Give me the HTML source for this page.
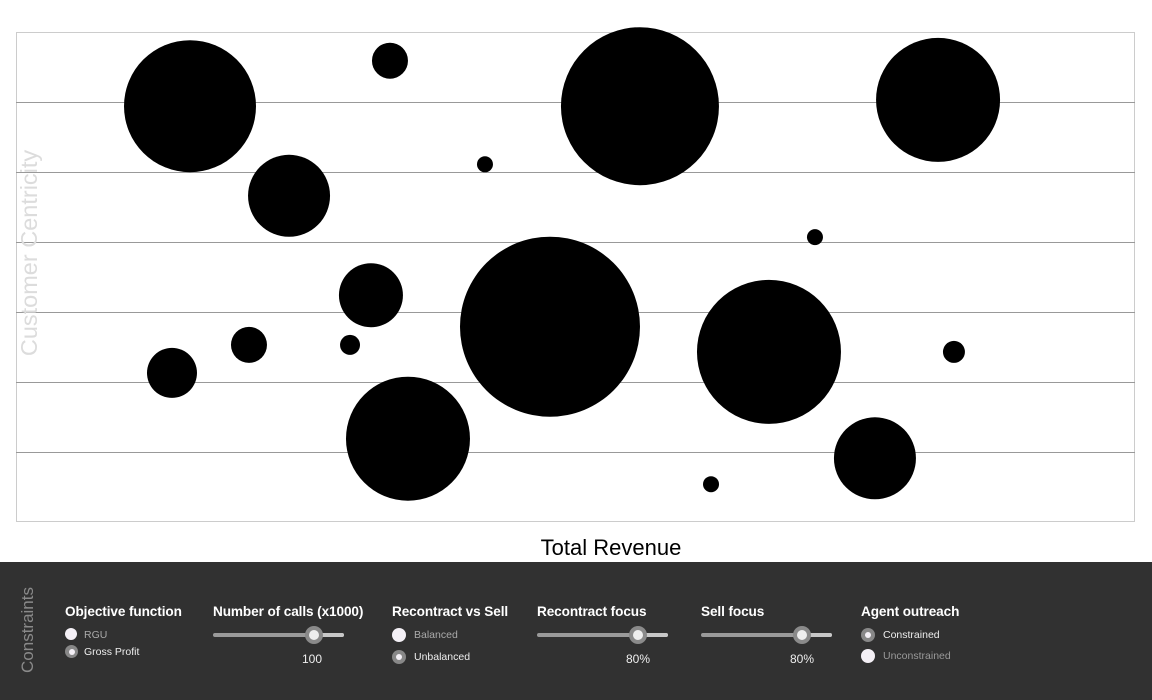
<!DOCTYPE html>
<html><head><meta charset="utf-8">
<style>
body{margin:0;width:1152px;height:700px;background:#fff;font-family:"Liberation Sans",sans-serif;overflow:hidden;position:relative}
#chart{position:absolute;left:0;top:0}
#panel{position:absolute;left:0;top:562px;width:1152px;height:138px;background:#313131;color:#fff}
.abs{position:absolute}
.h{font-weight:bold;font-size:13.6px;color:#fff;top:42px;white-space:nowrap;letter-spacing:-0.1px}
.opt{font-size:10.5px;white-space:nowrap}
.rad{position:absolute;width:12px;height:12px;border-radius:50%;background:#f4f0f6}
.rad.on{background:#888;width:13px;height:13px}
.rad.on::after{content:"";position:absolute;left:3.5px;top:3.5px;width:6px;height:6px;border-radius:50%;background:#f4f0f6}
.track{position:absolute;height:4px;border-radius:2px;background:#9a9a9a;top:71px}
.track .rest{position:absolute;top:0;height:4px;background:#c8c8c8;border-radius:2px}
.thumb{position:absolute;width:18px;height:18px;border-radius:50%;background:#8a8a8a;top:-7px}
.thumb::after{content:"";position:absolute;left:4px;top:4px;width:10px;height:10px;border-radius:50%;background:#eee}
.val{font-size:12px;color:#eee;top:90px}
</style></head><body>
<svg id="chart" width="1152" height="562"></svg>
<div id="panel">
  <div class="abs" style="left:28px;top:68px;transform:translate(-50%,-50%) rotate(-90deg);font-size:17px;color:#8a8a8a;white-space:nowrap">Constraints</div>

  <div class="abs h" style="left:65px">Objective function</div>
  <div class="rad" style="left:65px;top:66px"></div>
  <div class="abs opt" style="left:84px;top:67px;color:#aaa">RGU</div>
  <div class="rad on" style="left:65px;top:83px"></div>
  <div class="abs opt" style="left:84px;top:84px;color:#eee">Gross Profit</div>

  <div class="abs h" style="left:213px">Number of calls (x1000)</div>
  <div class="track" style="left:213px;width:131px"><div class="rest" style="left:101px;width:30px"></div><div class="thumb" style="left:92px"></div></div>
  <div class="abs val" style="left:302px">100</div>

  <div class="abs h" style="left:392px">Recontract vs Sell</div>
  <div class="rad" style="left:392px;top:66px;width:14px;height:14px"></div>
  <div class="abs opt" style="left:414px;top:67px;color:#aaa">Balanced</div>
  <div class="rad on" style="left:392px;top:88px;width:14px;height:14px"></div>
  <div class="abs opt" style="left:414px;top:89px;color:#eee">Unbalanced</div>

  <div class="abs h" style="left:537px">Recontract focus</div>
  <div class="track" style="left:537px;width:131px"><div class="rest" style="left:101px;width:30px"></div><div class="thumb" style="left:92px"></div></div>
  <div class="abs val" style="left:626px">80%</div>

  <div class="abs h" style="left:701px">Sell focus</div>
  <div class="track" style="left:701px;width:131px"><div class="rest" style="left:101px;width:30px"></div><div class="thumb" style="left:92px"></div></div>
  <div class="abs val" style="left:790px">80%</div>

  <div class="abs h" style="left:861px">Agent outreach</div>
  <div class="rad on" style="left:861px;top:66px;width:14px;height:14px"></div>
  <div class="abs opt" style="left:883px;top:67px;color:#eee">Constrained</div>
  <div class="rad" style="left:861px;top:87px;width:14px;height:14px"></div>
  <div class="abs opt" style="left:883px;top:88px;color:#999">Unconstrained</div>
</div>
<script>
const revenue=[15.55,33.42,55.76,82.40,24.40,41.91,71.40,31.72,47.72,67.29,20.82,29.85,13.94,83.82,35.03,76.76,62.11];
const centricity=[5.94,6.59,5.94,6.03,4.66,5.11,4.07,3.24,2.79,2.43,2.53,2.53,2.13,2.43,1.19,0.91,0.54];
const bubbleSize=[66,18,79,62,41,8,8,32,90,72,18,10,25,11,62,41,8];
const yTicks=[1,2,3,4,5,6];
const NS="http://www.w3.org/2000/svg";
const svg=document.getElementById('chart');
const L=16,R=1135,T=32,B=522;
const xS=v=>L+v/100*(R-L);
const yS=v=>B-v/7*(B-T);
function mk(t,a){const e=document.createElementNS(NS,t);for(const k in a)e.setAttribute(k,a[k]);svg.appendChild(e);return e;}
const frame=mk('rect',{x:L+0.5,y:T+0.5,width:R-L-1,height:B-T-1,fill:'none',stroke:'#ccc'});


yTicks.forEach(v=>{const y=Math.round(yS(v))+0.5;const g=mk('line',{x1:L,x2:R,y1:y,y2:y,stroke:'#999','stroke-width':1});

});
revenue.forEach((v,i)=>{const c=mk('circle',{cx:xS(v),cy:yS(centricity[i]),r:bubbleSize[i],fill:'#000'});

});
const yt=mk('text',{x:0,y:0,transform:'translate(37,253) rotate(-90)','text-anchor':'middle','font-size':23.5,fill:'#dcdcdc','font-family':'Liberation Sans, sans-serif'});
yt.textContent='Customer Centricity';


const xt=mk('text',{x:611,y:555,'text-anchor':'middle','font-size':22,fill:'#000','font-family':'Liberation Sans, sans-serif'});
xt.textContent='Total Revenue';


</script>
</body></html>
